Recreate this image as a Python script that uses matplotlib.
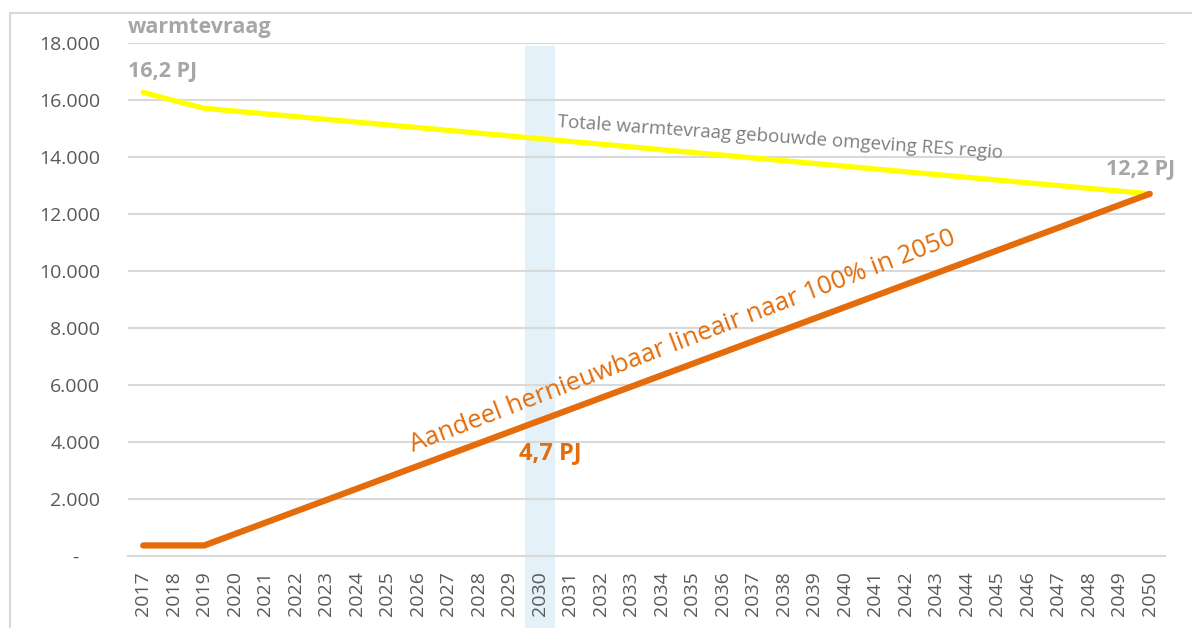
import matplotlib.pyplot as plt
from matplotlib.patches import Rectangle
from matplotlib.ticker import FuncFormatter

plt.rcParams['font.family'] = ['Open Sans', 'DejaVu Sans']

years = list(range(2017, 2051))

# totale warmtevraag (TJ)
warmtevraag = [16260, 15970, 15700, 15603, 15506, 15410, 15313, 15216, 15119, 15023,
               14926, 14829, 14732, 14635, 14539, 14442, 14345, 14248, 14152, 14055,
               13958, 13861, 13765, 13668, 13571, 13474, 13377, 13281, 13184, 13087,
               12990, 12894, 12797, 12700]

# aandeel hernieuwbaar (TJ)
hernieuwbaar = [370, 370, 370, 768, 1166, 1564, 1961, 2359, 2757, 3155,
                3553, 3951, 4349, 4747, 5144, 5542, 5940, 6338, 6736, 7134,
                7532, 7930, 8327, 8725, 9123, 9521, 9919, 10317, 10715, 11113,
                11510, 11908, 12306, 12700]

yticks = [0, 2000, 4000, 6000, 8000, 10000, 12000, 14000, 16000, 18000]
highlight_year = 2030

ORANGE = '#E46C0A'
GREY_LBL = '#A6A6A6'
TICK_C = '#595959'
GRID_C = '#D9D9D9'

fig = plt.figure(figsize=(11.92, 6.28), dpi=100)
ax = fig.add_axes([128/1192, 72/628, 1037/1192, 513.3/628])

# outer chart border
fig.patches.append(Rectangle((10/1192, -0.05), 1.1, 1 - 13/628 + 0.05,
                             transform=fig.transFigure, fill=False,
                             edgecolor='#D9D9D9', lw=1.5))

x = list(range(len(years)))
hi = years.index(highlight_year)
ax.axvspan(hi - 0.5, hi + 0.5, ymin=-0.14, ymax=0.9936, color='#E4F1F8',
           zorder=0, clip_on=False, lw=0)

ax.plot(x, warmtevraag, color='#FFFF00', lw=3.8, zorder=3, solid_capstyle='round')
ax.plot(x, hernieuwbaar, color=ORANGE, lw=4.5, zorder=4, solid_capstyle='round')

ax.set_xlim(-0.5, len(years) - 0.5)
ax.set_ylim(0, 18000)
ax.set_yticks(yticks)
ax.yaxis.set_major_formatter(FuncFormatter(
    lambda v, p: '-    ' if v == 0 else f'{int(v):,}'.replace(',', '.')))
ax.set_xticks(x)
ax.set_xticklabels([str(y) for y in years], rotation=90)
ax.tick_params(axis='both', length=0, labelsize=14, colors=TICK_C)
ax.tick_params(axis='y', pad=20)
ax.tick_params(axis='x', pad=11)

ax.grid(axis='y', color=GRID_C, lw=1.5, zorder=1)
ax.set_axisbelow(True)
for s in ['top', 'right', 'left']:
    ax.spines[s].set_visible(False)
ax.spines['bottom'].set_color(GRID_C)
ax.spines['bottom'].set_linewidth(1.5)

# annotations
ax.text(-0.5, 18335, 'warmtevraag', color=GREY_LBL, fontsize=15.5,
        fontweight='bold', va='baseline', ha='left')
ax.text(-0.5, 16800, '16,2 PJ', color=GREY_LBL, fontsize=15.5,
        fontweight='bold', va='baseline', ha='left')
ax.text(33.82, 13360, '12,2 PJ', color=GREY_LBL, fontsize=15.5,
        fontweight='bold', va='baseline', ha='right')
ax.text(13.59, 15040, 'Totale warmtevraag gebouwde omgeving RES regio',
        color='#7F7F7F', fontsize=13.5, rotation=-4.0, va='baseline', ha='left',
        rotation_mode='anchor')
ax.text(8.84, 3646, 'Aandeel hernieuwbaar lineair naar 100% in 2050',
        color=ORANGE, fontsize=18.5, rotation=21.0, va='baseline', ha='left',
        rotation_mode='anchor')
ax.text(13.36, 3611, '4,7 PJ', color=ORANGE, fontsize=17, fontweight='bold',
        va='center', ha='center')

fig.savefig('out.png', dpi=100)
